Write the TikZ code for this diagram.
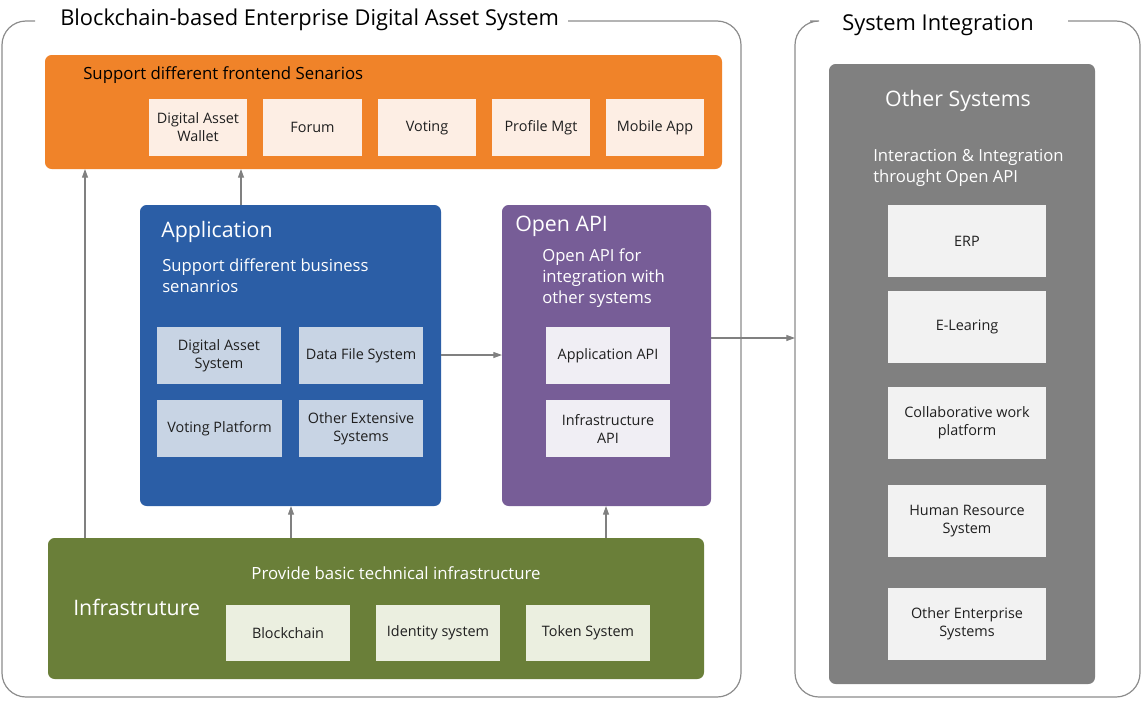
\documentclass[tikz,border=0pt]{standalone}
\usepackage{fontspec}
\setmainfont{Open Sans}
\usetikzlibrary{arrows.meta}
\definecolor{framegray}{HTML}{8C8C8C}
\definecolor{arrgray}{HTML}{808080}
\definecolor{orangeP}{HTML}{F08329}
\definecolor{orangeC}{HTML}{FDEEE4}
\definecolor{blueP}{HTML}{2B5EA6}
\definecolor{blueC}{HTML}{C8D4E4}
\definecolor{purpleP}{HTML}{775D97}
\definecolor{purpleC}{HTML}{F0EEF4}
\definecolor{greenP}{HTML}{6A7F39}
\definecolor{greenC}{HTML}{EBEFE0}
\definecolor{grayP}{HTML}{808080}
\definecolor{grayC}{HTML}{F2F2F2}
\tikzset{
  arr/.style={draw=arrgray, line width=0.8pt, -{Triangle[length=6.5pt,width=4.5pt]}},
  frameline/.style={draw=framegray, line width=0.9pt, rounded corners=18pt},
  panel/.style={rounded corners=5pt, inner sep=0pt, outer sep=0pt},
  cell/.style={inner sep=0pt, outer sep=0pt, align=center, text=black!88,
    font=\fontsize{10.8}{13.5}\selectfont},
  frametitle/.style={inner sep=0pt, font=\fontsize{16.4}{19}\selectfont, text=black},
  paneltitle/.style={inner sep=0pt, font=\fontsize{16}{19}\selectfont, text=white},
  panelsub/.style={inner sep=0pt, align=left, font=\fontsize{12.5}{15.75}\selectfont, text=white},
}
\newcommand\rbox[7]{\node[#2, minimum width={((#5)-(#3))*0.75pt}, minimum height={((#6)-(#4))*0.75pt}] (#1) at ({((#3)+(#5))/2},{((#4)+(#6))/2}) {#7};}
\begin{document}
\begin{tikzpicture}[x=0.75pt, y=-0.75pt]
\useasboundingbox (0,0) rectangle (1145,703);
% frames
\draw[frameline] (35,21) -- (2,21) -- (2,697) -- (741,697) -- (741,21) -- (568,21);
\draw[frameline] (810,21) -- (795,21) -- (795,697) -- (1140,697) -- (1140,21) -- (1068,21);
\node[frametitle, anchor=base west] (title1) at (60,26) {Blockchain-based Enterprise Digital Asset System};
\node[frametitle, anchor=base west] (title2) at (842,30) {System Integration};
\coordinate (rframe) at (795,338);
% frontend panel
\rbox{front}{panel, fill=orangeP}{45}{55}{722}{169}{}
\node[inner sep=0pt, anchor=base west, font=\fontsize{12.6}{15}\selectfont, text=black] (fronttxt) at (83,79) {Support different frontend Senarios};
\rbox{f1}{cell, fill=orangeC}{149}{99}{247}{156}{Digital Asset\\Wallet}
\rbox{f2}{cell, fill=orangeC}{263}{99}{362}{156}{Forum}
\rbox{f3}{cell, fill=orangeC}{378}{99}{476}{156}{Voting}
\rbox{f4}{cell, fill=orangeC}{492}{99}{590}{156}{Profile Mgt}
\rbox{f5}{cell, fill=orangeC}{606}{99}{704}{156}{Mobile App}
% application panel
\rbox{app}{panel, fill=blueP}{140}{205}{441}{506}{}
\node[paneltitle, anchor=base west] (apptitle) at (161,237) {Application};
\node[panelsub, anchor=north west] (appsub) at (162,258) {Support different business\\senanrios};
\rbox{a1}{cell, fill=blueC}{157}{327}{281}{384}{Digital Asset\\System}
\rbox{a2}{cell, fill=blueC}{299}{327}{423}{384}{Data File System}
\rbox{a3}{cell, fill=blueC}{157}{400}{282}{457}{Voting Platform}
\rbox{a4}{cell, fill=blueC}{299}{400}{423}{457}{Other Extensive\\Systems}
% open api panel
\rbox{api}{panel, fill=purpleP}{502}{205}{711}{506}{}
\node[paneltitle, anchor=base west] (apititle) at (515,231) {Open API};
\node[panelsub, anchor=north west] (apisub) at (542,248) {Open API for\\integration with\\other systems};
\rbox{p1}{cell, fill=purpleC}{546}{327}{670}{384}{Application API}
\rbox{p2}{cell, fill=purpleC}{546}{400}{670}{457}{Infrastructure\\API}
% infrastructure panel
\rbox{infra}{panel, fill=greenP}{48}{538}{704}{679}{}
\node[inner sep=0pt, anchor=base, font=\fontsize{12.6}{15}\selectfont, text=white] (infrasub) at (396,579) {Provide basic technical infrastructure};
\node[paneltitle, anchor=base west] (infratitle) at (73,615) {Infrastruture};
\rbox{i1}{cell, fill=greenC}{226}{605}{350}{661}{Blockchain}
\rbox{i2}{cell, fill=greenC}{376}{605}{500}{661}{Identity system}
\rbox{i3}{cell, fill=greenC}{526}{605}{650}{661}{Token System}
% other systems panel
\rbox{other}{panel, fill=grayP}{829}{64}{1095}{684}{}
\node[paneltitle, anchor=base] (othertitle) at (958,106) {Other Systems};
\node[panelsub, anchor=north west] (othersub) at (873,149) {Interaction \& Integration\\throught Open API};
\rbox{o1}{cell, fill=grayC}{888}{205}{1046}{277}{ERP}
\rbox{o2}{cell, fill=grayC}{888}{291}{1046}{363}{E-Learing}
\rbox{o3}{cell, fill=grayC}{888}{387}{1046}{459}{Collaborative work\\platform}
\rbox{o4}{cell, fill=grayC}{888}{485}{1046}{557}{Human Resource\\System}
\rbox{o5}{cell, fill=grayC}{888}{588}{1046}{660}{Other Enterprise\\Systems}
% connectors
\coordinate (x1) at (85,0);
\coordinate (x2) at (241,0);
\coordinate (x3) at (291,0);
\coordinate (x4) at (606,0);
\coordinate (y1) at (0,355);
\coordinate (y2) at (0,338);
\draw[arr] (infra.north -| x1) -- (front.south -| x1);
\draw[arr] (app.north -| x2) -- (front.south -| x2);
\draw[arr] (infra.north -| x3) -- (app.south -| x3);
\draw[arr] (infra.north -| x4) -- (api.south -| x4);
\draw[arr] (app.east |- y1) -- (api.west |- y1);
\draw[arr] (api.east |- y2) -- (rframe);
\end{tikzpicture}
\end{document}
